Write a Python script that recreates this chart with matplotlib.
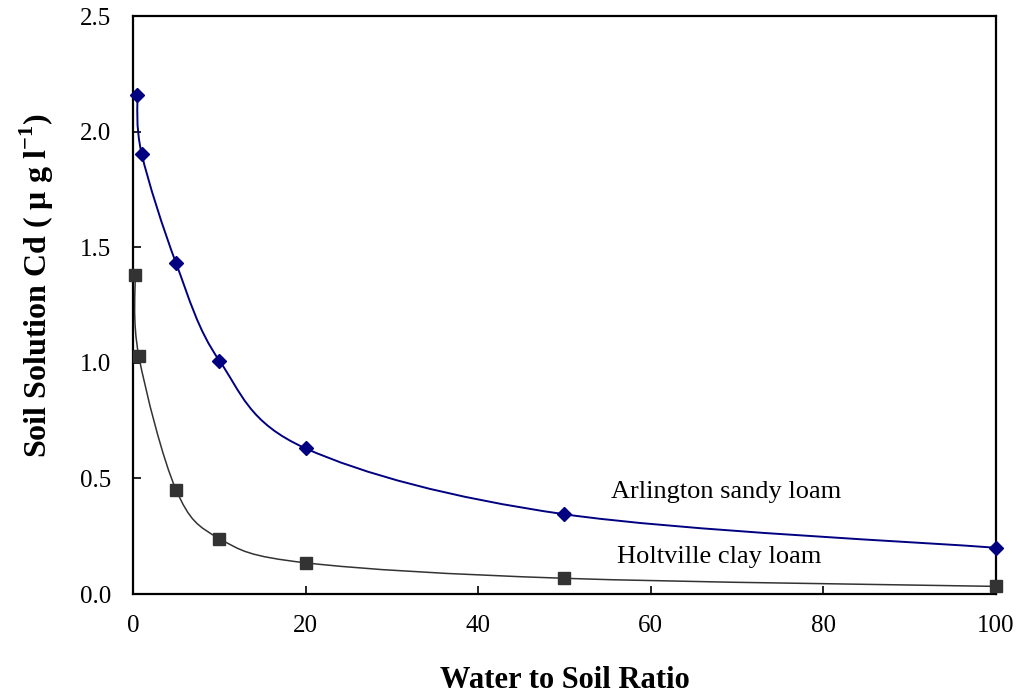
import numpy as np
import matplotlib.pyplot as plt
from matplotlib.path import Path
from matplotlib.patches import PathPatch

plt.rcParams['font.family'] = ['Liberation Serif', 'DejaVu Serif']
plt.rcParams['mathtext.fontset'] = 'custom'
plt.rcParams['mathtext.rm'] = 'Liberation Serif'
plt.rcParams['mathtext.bf'] = 'Liberation Serif:bold'

# data
ratio_arl = [0.5, 1, 5, 10, 20, 50, 100]
cd_arl = [2.16, 1.905, 1.43, 1.01, 0.63, 0.345, 0.20]
ratio_hol = [0.25, 0.67, 5, 10, 20, 50, 100]
cd_hol = [1.38, 1.03, 0.45, 0.24, 0.135, 0.068, 0.033]

labels = ['Arlington sandy loam', 'Holtville clay loam']


def smooth_path(x, y):
    """Excel-style smoothed line: Catmull-Rom converted to cubic Bezier."""
    p = np.column_stack([x, y]).astype(float)
    pts = [p[0]]
    codes = [Path.MOVETO]
    n = len(p)
    for i in range(n - 1):
        p0 = p[i - 1] if i > 0 else p[i]
        p1 = p[i]
        p2 = p[i + 1]
        p3 = p[i + 2] if i + 2 < n else p[i + 1]
        c1 = p1 + (p2 - p0) / 6.0
        c2 = p2 - (p3 - p1) / 6.0
        pts += [c1, c2, p2]
        codes += [Path.CURVE4] * 3
    return Path(np.array(pts), codes)


fig = plt.figure(figsize=(10.16, 7.0), dpi=100)
ax = fig.add_axes([0.1309, 0.1514, 0.8494, 0.8257])

ax.add_patch(PathPatch(smooth_path(ratio_arl, cd_arl), fill=False,
                       edgecolor='#000080', lw=1.4, zorder=2))
ax.add_patch(PathPatch(smooth_path(ratio_hol, cd_hol), fill=False,
                       edgecolor='#333333', lw=1.1, zorder=2))
ax.plot(ratio_arl, cd_arl, linestyle='none', marker='D', ms=7,
        color='#000080', clip_on=False, zorder=3)
ax.plot(ratio_hol, cd_hol, linestyle='none', marker='s', ms=8,
        color='#333333', clip_on=False, zorder=3)

ax.text(68.7, 0.441, labels[0], fontsize=19, ha='center', va='center')
ax.text(67.9, 0.160, labels[1], fontsize=19, ha='center', va='center')

ax.set_xlim(0, 100)
ax.set_ylim(0, 2.5)
ax.set_xticks(np.arange(0, 101, 20))
ax.set_yticks(np.arange(0, 2.51, 0.5))
ax.set_yticklabels([f'{v:.1f}' for v in np.arange(0, 2.51, 0.5)])
ax.tick_params(direction='in', length=6, width=1.2, labelsize=18,
               top=False, right=False)
ax.tick_params(axis='x', pad=15)
ax.tick_params(axis='y', pad=16)
for s in ax.spines.values():
    s.set_linewidth(1.6)

ax.set_xlabel('Water to Soil Ratio', fontsize=22, fontweight='bold')
ax.xaxis.set_label_coords(0.5, -0.125)
ax.set_ylabel(r'Soil Solution Cd ( $\mathbf{\mu}$ g l$^{\mathbf{-1}}$)',
              fontsize=23, fontweight='bold')
ax.yaxis.set_label_coords(-0.089, 0.533)

fig.savefig('out.png', dpi=100)
